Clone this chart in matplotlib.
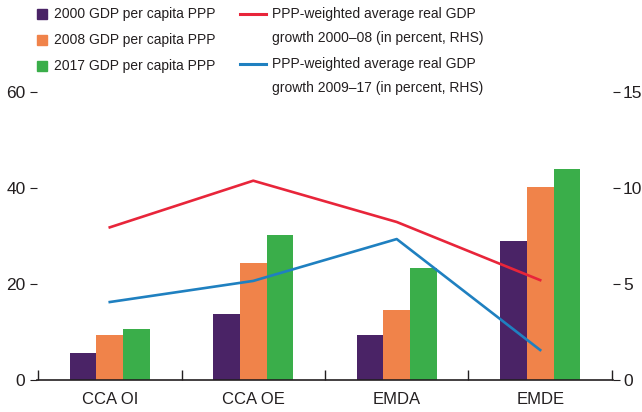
import matplotlib
matplotlib.use('Agg')
import matplotlib.pyplot as plt
from matplotlib.patches import Rectangle
from matplotlib.lines import Line2D
import numpy as np

plt.rcParams['font.family'] = ['Liberation Sans', 'DejaVu Sans']

# data
regions = ["CCA OI", "CCA OE", "EMDA", "EMDE"]
gdp_2000 = [5.6, 13.75, 9.4, 29.0]
gdp_2008 = [9.3, 24.4, 14.6, 40.3]
gdp_2017 = [10.7, 30.2, 23.4, 44.0]
growth_00_08 = [7.95, 10.38, 8.23, 5.2]
growth_09_17 = [4.06, 5.16, 7.34, 1.56]

bar_labels = ["2000 GDP per capita PPP", "2008 GDP per capita PPP", "2017 GDP per capita PPP"]
line_labels = ["PPP-weighted average real GDP\ngrowth 2000\u201308 (in percent, RHS)",
               "PPP-weighted average real GDP\ngrowth 2009\u201317 (in percent, RHS)"]

bar_colors = ["#4a2366", "#f0834a", "#3aae4a"]
line_colors = ["#e8253a", "#1f80c0"]
ink = "#231f20"
fs_tick = 12.5
fs_cat = 12
fs_leg = 10

W, H = 642, 412
fig = plt.figure(figsize=(W / 100, H / 100), dpi=100)
ax = fig.add_axes([0.057, 0.0777, 0.8984, 0.699])
ax2 = ax.twinx()

x = np.arange(len(regions))
w = 0.186
for i, vals in enumerate([gdp_2000, gdp_2008, gdp_2017]):
    ax.bar(x + (i - 1) * w, vals, width=w, color=bar_colors[i], zorder=2)

ax2.plot(x, growth_00_08, color=line_colors[0], lw=1.9)
ax2.plot(x, growth_09_17, color=line_colors[1], lw=1.9)

ax.set_xlim(-0.51, 3.51)
ax.set_ylim(0, 60)
ax2.set_ylim(0, 15)
ax.set_yticks([0, 20, 40, 60])
ax2.set_yticks([0, 5, 10, 15])
ax.set_xticks(x)
ax.set_xticklabels(regions)
ax.set_xticks(np.arange(-0.5, 4, 1), minor=True)

for a in (ax, ax2):
    for s in ["top", "left", "right"]:
        a.spines[s].set_visible(False)
ax.spines["bottom"].set_color(ink)
ax.spines["bottom"].set_linewidth(1.2)
ax2.spines["bottom"].set_visible(False)

ax.tick_params(axis="y", length=5, width=0.8, pad=3, labelsize=fs_tick, colors=ink)
ax2.tick_params(axis="y", length=5, width=0.8, pad=2, labelsize=fs_tick, colors=ink)
ax.tick_params(axis="x", which="major", length=0, pad=9, labelsize=fs_cat, colors=ink)
ax.tick_params(axis="x", which="minor", direction="in", length=7, width=1.0, color=ink)

# legend, placed in pixels from the top-left corner
def fx(px):
    return px / W

def fy(py):
    return 1 - py / H

for i, lab in enumerate(bar_labels):
    yc = 14 + 26 * i
    fig.add_artist(Rectangle((fx(37), fy(yc + 5)), 10 / W, 10 / H,
                             color=bar_colors[i], transform=fig.transFigure))
    fig.text(fx(54), fy(yc), lab, fontsize=fs_leg, color=ink, va="center", ha="left")

for i, lab in enumerate(line_labels):
    yc = 14 + 50 * i
    fig.add_artist(Line2D([fx(240), fx(266)], [fy(yc), fy(yc)], color=line_colors[i],
                          lw=2.2, transform=fig.transFigure))
    for j, part in enumerate(lab.split("\n")):
        fig.text(fx(272), fy(yc + 24 * j), part, fontsize=fs_leg, color=ink,
                 va="center", ha="left")

fig.savefig("out.png", dpi=100)
